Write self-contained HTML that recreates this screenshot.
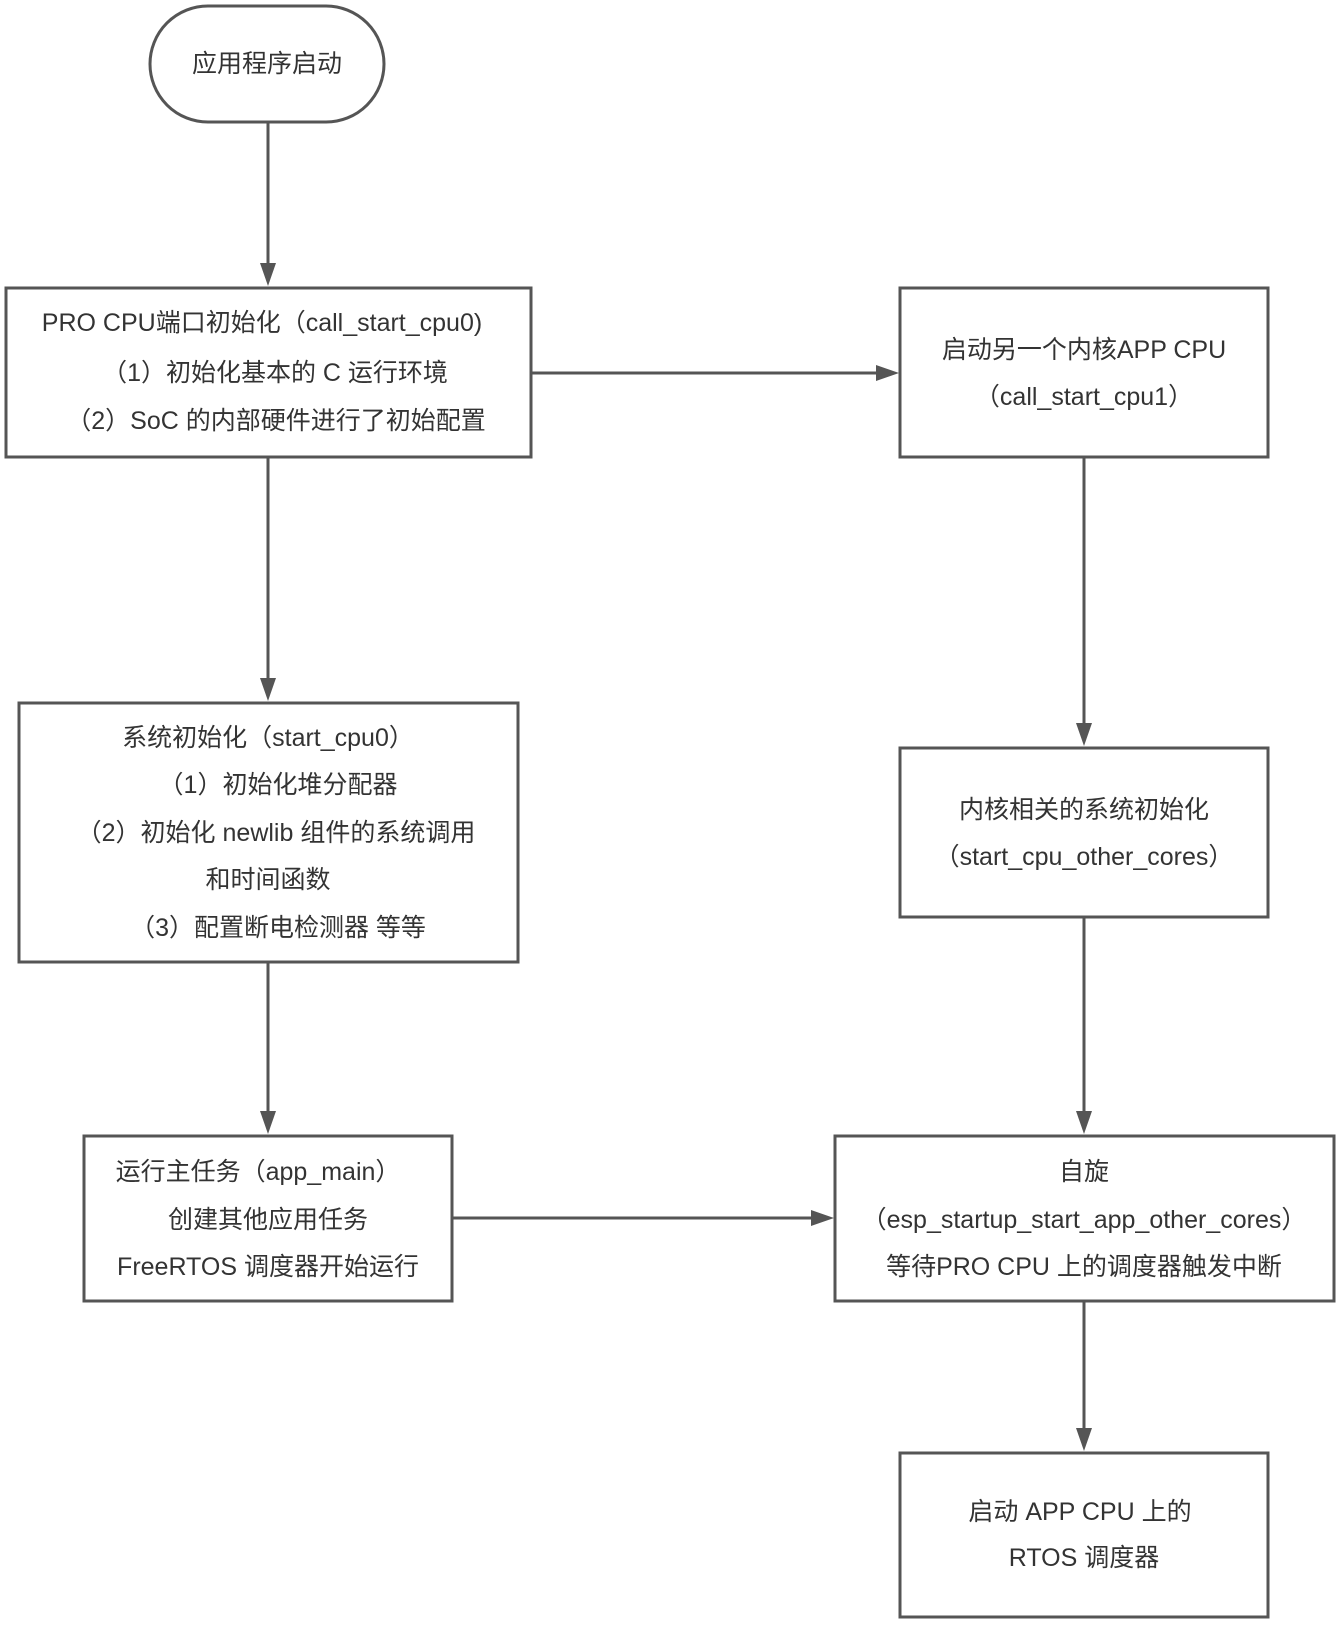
<!DOCTYPE html>
<html><head><meta charset="utf-8"><style>
html,body{margin:0;padding:0;background:#fff;}
svg{display:block}
text{font-family:"Liberation Sans","Noto Sans CJK SC",sans-serif;font-size:25px;fill:#333;text-anchor:middle;dominant-baseline:central}
</style></head><body>
<svg width="1338" height="1636" viewBox="0 0 1338 1636" xmlns="http://www.w3.org/2000/svg">
<g fill="#fff" stroke="#555" stroke-width="3">
<rect x="150" y="6" width="234" height="116" rx="58" ry="58"/>
<rect x="6" y="288" width="525" height="169"/>
<rect x="900" y="288" width="368" height="169"/>
<rect x="19" y="703" width="499" height="259"/>
<rect x="900" y="748" width="368" height="169"/>
<rect x="84" y="1136" width="368" height="165"/>
<rect x="835" y="1136" width="499" height="165"/>
<rect x="900" y="1453" width="368" height="164"/>
</g>
<g stroke="#555" stroke-width="3" fill="none">
<line x1="268" y1="122" x2="268" y2="266"/>
<line x1="531" y1="373" x2="878" y2="373"/>
<line x1="268" y1="457" x2="268" y2="681"/>
<line x1="1084" y1="457" x2="1084" y2="726"/>
<line x1="268" y1="962" x2="268" y2="1114"/>
<line x1="1084" y1="917" x2="1084" y2="1114"/>
<line x1="452" y1="1218" x2="813" y2="1218"/>
<line x1="1084" y1="1301" x2="1084" y2="1431"/>
</g>
<g fill="#555">
<polygon points="260,263 276,263 268,286"/>
<polygon points="876,365 876,381 899,373"/>
<polygon points="260,678 276,678 268,701"/>
<polygon points="1076,723 1092,723 1084,746"/>
<polygon points="260,1111 276,1111 268,1134"/>
<polygon points="1076,1111 1092,1111 1084,1134"/>
<polygon points="811,1210 811,1226 834,1218"/>
<polygon points="1076,1428 1092,1428 1084,1451"/>
</g>
<text x="267" y="64">应用程序启动</text>
<text x="262" y="323">PRO CPU端口初始化（call_start_cpu0)</text>
<text x="275" y="373">（1）初始化基本的 C 运行环境</text>
<text x="276" y="421">（2）SoC 的内部硬件进行了初始配置</text>
<text x="1084" y="350">启动另一个内核APP CPU</text>
<text x="1084" y="397">（call_start_cpu1）</text>
<text x="268" y="738">系统初始化（start_cpu0）</text>
<text x="278" y="785">（1）初始化堆分配器</text>
<text x="276" y="833">（2）初始化 newlib 组件的系统调用</text>
<text x="268" y="880">和时间函数</text>
<text x="278" y="928">（3）配置断电检测器 等等</text>
<text x="1084" y="810">内核相关的系统初始化</text>
<text x="1084" y="857">（start_cpu_other_cores）</text>
<text x="258" y="1172">运行主任务（app_main）</text>
<text x="268" y="1220">创建其他应用任务</text>
<text x="268" y="1267">FreeRTOS 调度器开始运行</text>
<text x="1084" y="1172">自旋</text>
<text x="1084" y="1220">（esp_startup_start_app_other_cores）</text>
<text x="1084" y="1267">等待PRO CPU 上的调度器触发中断</text>
<text x="1080" y="1512">启动 APP CPU 上的</text>
<text x="1084" y="1558">RTOS 调度器</text>
</svg>
</body></html>
